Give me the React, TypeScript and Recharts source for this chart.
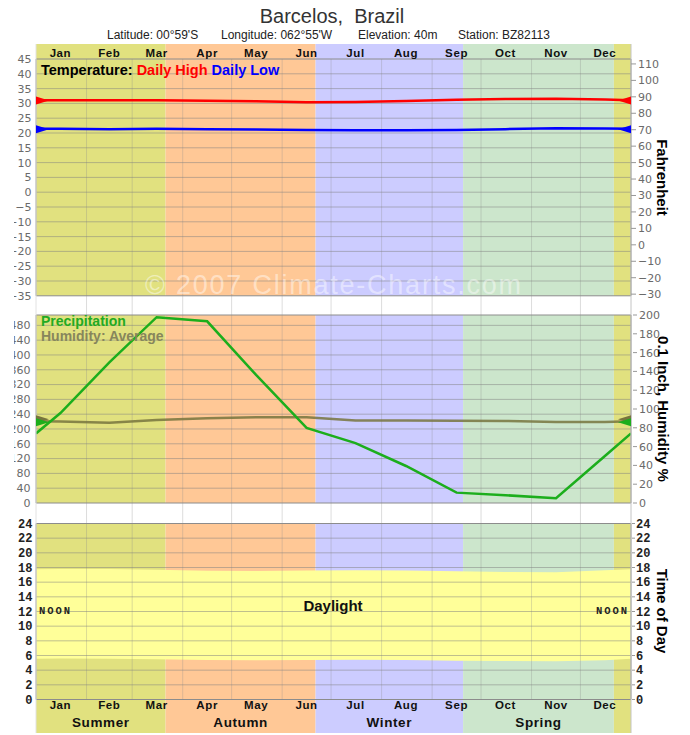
import React from "react";
import {
  ComposedChart,
  Line,
  Area,
  XAxis,
  YAxis,
  ReferenceArea,
  ReferenceLine,
  ReferenceDot,
} from "recharts";

const months = ["Jan", "Feb", "Mar", "Apr", "May", "Jun", "Jul", "Aug", "Sep", "Oct", "Nov", "Dec"];
const monthMidDay = [15, 45, 74, 105, 135, 166, 196, 227, 258, 288, 319, 349];
const monthEndDay = [31, 59, 90, 120, 151, 181, 212, 243, 273, 304, 334];

const seasons = ["Summer", "Autumn", "Winter", "Spring"];
// summer, autumn, winter, spring, summer again
const seasonEdgeDay = [0, 79.5, 171.5, 262, 354.5, 365];
const bandSeason = [0, 1, 2, 3, 0];

// °C
const dailyHigh = [31.1, 31.1, 31.1, 30.9, 30.7, 30.4, 30.5, 30.8, 31.2, 31.5, 31.6, 31.3];
const dailyLow = [21.4, 21.3, 21.4, 21.3, 21.2, 21.0, 20.9, 20.9, 21.0, 21.3, 21.6, 21.5];
// mm
const precipMm = [243, 380, 502, 491, 346, 203, 162, 100, 28, 21, 13, 127];
// %
const humidity = [86.6, 85.5, 88.4, 90.2, 91.3, 91.3, 87.7, 87.7, 87.6, 87.3, 86.3, 86.3];
// hours
const sunrise = [5.58, 5.55, 5.48, 5.38, 5.35, 5.38, 5.42, 5.38, 5.3, 5.25, 5.22, 5.35];
const sunset = [17.8, 17.78, 17.68, 17.57, 17.53, 17.58, 17.62, 17.58, 17.5, 17.38, 17.36, 17.62];

// where the curves meet Jan 1 / Dec 31
const edgeHigh = 31.1;
const edgeLow = 21.4;
const edgePrecip = 188;
const edgeHumidity = 87;
const edgeSunrise = 5.55;
const edgeSunset = 17.75;

// annual averages (edge wedges)
const meanHigh = 31.0;
const meanLow = 21.3;
const meanPrecip = 218;
const meanHumidity = 89;

const tempTicks = [-35, -30, -25, -20, -15, -10, -5, 0, 5, 10, 15, 20, 25, 30, 35, 40, 45];
const fahrTicks = [-30, -20, -10, 0, 10, 20, 30, 40, 50, 60, 70, 80, 90, 100, 110];
const mmTicks = [0, 40, 80, 120, 160, 200, 240, 280, 320, 360, 400, 440, 480];
const pctTicks = [0, 20, 40, 60, 80, 100, 120, 140, 160, 180, 200];
const hourTicks = [0, 2, 4, 6, 8, 10, 12, 14, 16, 18, 20, 22, 24];

const rows = [
  { day: 0, high: edgeHigh, low: edgeLow, precip: edgePrecip, humidity: edgeHumidity, daylight: [edgeSunrise, edgeSunset] },
  ...months.map((_, i) => ({
    day: monthMidDay[i],
    high: dailyHigh[i],
    low: dailyLow[i],
    precip: precipMm[i],
    humidity: humidity[i],
    daylight: [sunrise[i], sunset[i]],
  })),
  { day: 365, high: edgeHigh, low: edgeLow, precip: edgePrecip, humidity: edgeHumidity, daylight: [edgeSunrise, edgeSunset] },
];

// layout: one plot area, each panel gets its own stretched y axis
// every axis is 1px wide/high (0 would not be drawn), margins make room for them
const PLOT_TOP = 44;
const PLOT_BOTTOM = 733;
const PLOT_LEFT = 36;
const PLOT_RIGHT = 631;

function axisDomain(vLow: number, vHigh: number, pxLow: number, pxHigh: number): [number, number] {
  const k = (pxLow - pxHigh) / (vHigh - vLow);
  return [vLow - (PLOT_BOTTOM - pxLow) / k, vHigh + (pxHigh - PLOT_TOP) / k];
}
function valueAtPx(domain: [number, number], px: number) {
  return domain[1] - ((px - PLOT_TOP) / (PLOT_BOTTOM - PLOT_TOP)) * (domain[1] - domain[0]);
}

const tempDomain = axisDomain(-35, 45, 295.8, 59);
const fahrDomain: [number, number] = [tempDomain[0] * 1.8 + 32, tempDomain[1] * 1.8 + 32];
const mmDomain = axisDomain(0, 508, 503, 315);
const pctDomain = axisDomain(0, 200, 503, 315);
const hourDomain = axisDomain(0, 24, 699.5, 523.5);

const SUMMER = "#e1e17f";
const seasonColors = [SUMMER, "#ffc896", "#ccccff", "#cce6cc"];
const SANS = "'Liberation Sans', Arial, sans-serif";
const NUM = "'DejaVu Sans', sans-serif";
const MONO = "'Liberation Mono', monospace";

const minus = (v: number) => String(v).replace("-", "\u2212");

const grayTick = { fill: "#6a6a6a", fontSize: 11, fontFamily: NUM };
const monoTick = { fill: "#222", fontSize: 12, fontFamily: MONO, fontWeight: "bold" };

const LabelTick = ({ x, y, payload, shiftY, names, days, size }: any) => (
  <text
    x={x}
    y={y + shiftY}
    textAnchor="middle"
    fontFamily={SANS}
    fontWeight="bold"
    fontSize={size}
    letterSpacing={0.6}
    fill="#111"
  >
    {names[days.indexOf(payload.value)]}
  </text>
);

const wedge = (color: string, side: "left" | "right") => (props: any) => {
  const { cx, cy } = props;
  const tip = side === "left" ? cx + 13 : cx - 13;
  return <path d={`M${cx},${cy - 4}L${tip},${cy}L${cx},${cy + 4}Z`} fill={color} />;
};

const seasonMidDay = seasons.map((_, i) => (seasonEdgeDay[i] + seasonEdgeDay[i + 1]) / 2);
const gridBottomC = valueAtPx(tempDomain, 699.5);

const labelAxis = {
  dataKey: "day",
  type: "number" as const,
  domain: [0, 365],
  allowDataOverflow: true,
  interval: 0 as const,
  height: 1,
  axisLine: false,
  tickLine: false,
  tickSize: 0,
  tickMargin: 0,
};

export default function App() {
  return (
    <div style={{ position: "absolute", left: 14, top: 0, width: 676, height: 735, overflow: "hidden", background: "#fff" }}>
      <div style={{ position: "absolute", left: -14, top: 0, width: 690, height: 735 }}>
        <ComposedChart
          width={690}
          height={735}
          data={rows}
          margin={{ top: PLOT_TOP - 1, right: 690 - PLOT_RIGHT - 3, bottom: 735 - PLOT_BOTTOM - 2, left: PLOT_LEFT - 3 }}
        >
          <XAxis
            {...labelAxis}
            xAxisId="top"
            orientation="top"
            ticks={monthMidDay}
            tick={(p: any) => <LabelTick {...p} shiftY={12.5} names={months} days={monthMidDay} size={11.5} />}
          />
          <XAxis
            {...labelAxis}
            xAxisId="bottom"
            orientation="bottom"
            ticks={monthMidDay}
            tick={(p: any) => <LabelTick {...p} shiftY={-24} names={months} days={monthMidDay} size={11.5} />}
          />
          <XAxis
            {...labelAxis}
            xAxisId="season"
            orientation="bottom"
            ticks={seasonMidDay}
            tick={(p: any) => <LabelTick {...p} shiftY={-7.5} names={seasons} days={seasonMidDay} size={13.5} />}
          />
          <XAxis dataKey="day" type="number" domain={[0, 365]} allowDataOverflow height={0} hide />

          <YAxis
            yAxisId="c"
            width={1}
            domain={tempDomain}
            ticks={tempTicks}
            interval={0}
            allowDataOverflow
            axisLine={{ stroke: "#e2e2e2" }}
            tickLine={false}
            tickSize={0}
            tickMargin={4.5}
            tick={grayTick}
            tickFormatter={minus}
          />
          <YAxis
            yAxisId="mm"
            width={1}
            domain={mmDomain}
            ticks={mmTicks}
            interval={0}
            allowDataOverflow
            axisLine={false}
            tickLine={false}
            tickSize={0}
            tickMargin={3.5}
            tick={grayTick}
          />
          <YAxis
            yAxisId="hr"
            width={1}
            domain={hourDomain}
            ticks={hourTicks}
            interval={0}
            allowDataOverflow
            axisLine={false}
            tickLine={false}
            tickSize={0}
            tickMargin={2.5}
            tick={monoTick}
          />
          <YAxis
            yAxisId="f"
            orientation="right"
            width={1}
            domain={fahrDomain}
            ticks={fahrTicks}
            interval={0}
            allowDataOverflow
            axisLine={{ stroke: "#c4c4c4" }}
            tickLine={{ stroke: "#999" }}
            tickSize={5}
            tickMargin={2}
            tick={grayTick}
            tickFormatter={minus}
          />
          <YAxis
            yAxisId="pct"
            orientation="right"
            width={1}
            domain={pctDomain}
            ticks={pctTicks}
            interval={0}
            allowDataOverflow
            axisLine={false}
            tickLine={{ stroke: "#999" }}
            tickSize={4}
            tickMargin={2}
            tick={grayTick}
          />
          <YAxis
            yAxisId="hrR"
            orientation="right"
            width={1}
            domain={hourDomain}
            ticks={hourTicks}
            interval={0}
            allowDataOverflow
            axisLine={false}
            tickLine={{ stroke: "#999" }}
            tickSize={3}
            tickMargin={1}
            tick={monoTick}
          />

          {bandSeason.map((s, i) => (
            <ReferenceArea
              key={`band${i}`}
              yAxisId="c"
              x1={seasonEdgeDay[i]}
              x2={seasonEdgeDay[i + 1]}
              fill={seasonColors[s]}
              fillOpacity={1}
              stroke="none"
            />
          ))}
          <ReferenceArea yAxisId="c" x1={0} x2={365} y1={valueAtPx(tempDomain, 315)} y2={-35} fill="#fff" fillOpacity={1} stroke="none" />
          <ReferenceArea yAxisId="mm" x1={0} x2={365} y1={valueAtPx(mmDomain, 523.5)} y2={0} fill="#fff" fillOpacity={1} stroke="none" />

          <Area
            yAxisId="hr"
            dataKey="daylight"
            type="linear"
            fill="#ffff99"
            fillOpacity={1}
            stroke="none"
            isAnimationActive={false}
          />

          {monthEndDay.map((d) => (
            <ReferenceLine
              key={`v${d}`}
              yAxisId="c"
              segment={[{ x: d, y: 45 }, { x: d, y: gridBottomC }]}
              stroke="#8a8a8a"
              strokeOpacity={0.3}
            />
          ))}
          {tempTicks.slice(1, -1).map((t) => (
            <ReferenceLine key={`t${t}`} yAxisId="c" y={t} stroke="#808080" strokeOpacity={0.5} />
          ))}
          {mmTicks.slice(1).map((t) => (
            <ReferenceLine key={`m${t}`} yAxisId="mm" y={t} stroke="#808080" strokeOpacity={0.5} />
          ))}
          {hourTicks.slice(1, -1).map((t) => (
            <ReferenceLine key={`h${t}`} yAxisId="hr" y={t} stroke="#808080" strokeOpacity={0.5} />
          ))}

          <ReferenceArea yAxisId="c" x1={0} x2={365} y1={-35} y2={45} fill="none" stroke="#8c8c8c" />
          <ReferenceArea yAxisId="mm" x1={0} x2={365} y1={0} y2={508} fill="none" stroke="#8c8c8c" />
          <ReferenceArea yAxisId="hr" x1={0} x2={365} y1={0} y2={24} fill="none" stroke="#8c8c8c" />

          <Line yAxisId="c" dataKey="high" type="linear" stroke="#ff0000" strokeWidth={2.5} dot={false} isAnimationActive={false} />
          <Line yAxisId="c" dataKey="low" type="linear" stroke="#0000ff" strokeWidth={2.5} dot={false} isAnimationActive={false} />
          <Line yAxisId="pct" dataKey="humidity" type="linear" stroke="#77743e" strokeOpacity={0.85} strokeWidth={2.5} dot={false} isAnimationActive={false} />
          <Line yAxisId="mm" dataKey="precip" type="linear" stroke="#1cae1c" strokeWidth={2.5} dot={false} isAnimationActive={false} />

          <ReferenceDot yAxisId="c" x={0} y={meanHigh} ifOverflow="visible" shape={wedge("#ff0000", "left")} />
          <ReferenceDot yAxisId="c" x={365} y={meanHigh} ifOverflow="visible" shape={wedge("#ff0000", "right")} />
          <ReferenceDot yAxisId="c" x={0} y={meanLow} ifOverflow="visible" shape={wedge("#0000ff", "left")} />
          <ReferenceDot yAxisId="c" x={365} y={meanLow} ifOverflow="visible" shape={wedge("#0000ff", "right")} />
          <ReferenceDot yAxisId="pct" x={0} y={meanHumidity} ifOverflow="visible" shape={wedge("#77743e", "left")} />
          <ReferenceDot yAxisId="pct" x={365} y={meanHumidity} ifOverflow="visible" shape={wedge("#77743e", "right")} />
          <ReferenceDot yAxisId="mm" x={0} y={meanPrecip} ifOverflow="visible" shape={wedge("#1cae1c", "left")} />
          <ReferenceDot yAxisId="mm" x={365} y={meanPrecip} ifOverflow="visible" shape={wedge("#1cae1c", "right")} />
        </ComposedChart>

        <svg width={690} height={735} style={{ position: "absolute", left: 0, top: 0, pointerEvents: "none" }}>
          <text x={332} y={23} textAnchor="middle" fontFamily={SANS} fontSize={20} fill="#333" style={{ whiteSpace: "pre" }}>
            {"Barcelos,  Brazil"}
          </text>
          <g fontFamily={SANS} fontSize={12} fill="#222">
            <text x={107} y={39}>Latitude: 00°59'S</text>
            <text x={221} y={39}>Longitude: 062°55'W</text>
            <text x={358} y={39}>Elevation: 40m</text>
            <text x={458} y={39}>Station: BZ82113</text>
          </g>

          <text x={41} y={74.5} fontFamily={SANS} fontWeight="bold" fontSize={14.5} style={{ whiteSpace: "pre" }}>
            <tspan fill="#000">Temperature: </tspan>
            <tspan fill="#ff0000">Daily High </tspan>
            <tspan fill="#0000ff">Daily Low</tspan>
          </text>
          <text x={41} y={326} fontFamily={SANS} fontWeight="bold" fontSize={14} fill="#22aa22">
            Precipitation
          </text>
          <text x={41} y={341} fontFamily={SANS} fontWeight="bold" fontSize={14} fill="#87865c">
            Humidity: Average
          </text>

          <text x={333} y={294} textAnchor="middle" fontFamily={SANS} fontSize={27} fill="#fff" fillOpacity={0.45} textLength={376} lengthAdjust="spacing">
            © 2007 Climate-Charts.com
          </text>

          <text x={333} y={611} textAnchor="middle" fontFamily={SANS} fontWeight="bold" fontSize={15} fill="#111">
            Daylight
          </text>
          <text x={39} y={613.5} fontFamily={MONO} fontWeight="bold" fontSize={10.5} fill="#222" textLength={31}>
            NOON
          </text>
          <text x={596} y={613.5} fontFamily={MONO} fontWeight="bold" fontSize={10.5} fill="#222" textLength={31}>
            NOON
          </text>

          <g fontFamily={SANS} fontWeight="bold" fontSize={15} fill="#000">
            <text transform="translate(662.5,177.5) rotate(90)" textAnchor="middle" dominantBaseline="central">
              Fahrenheit
            </text>
            <text transform="translate(663,409) rotate(90)" textAnchor="middle" dominantBaseline="central">
              0.1 Inch, Humidity %
            </text>
            <text transform="translate(662.5,611) rotate(90)" textAnchor="middle" dominantBaseline="central">
              Time of Day
            </text>
          </g>
        </svg>
      </div>
    </div>
  );
}
